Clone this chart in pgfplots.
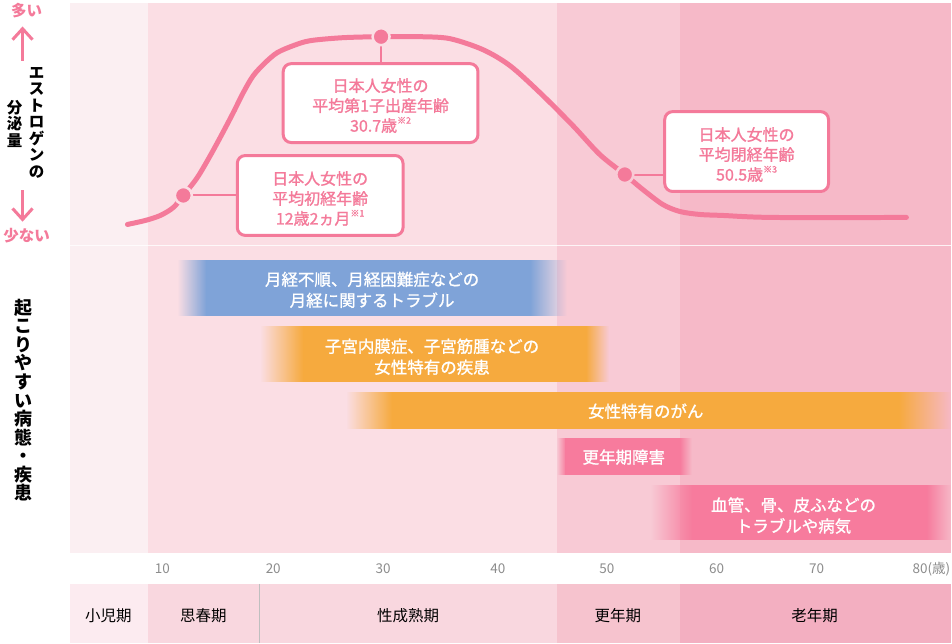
\documentclass[border=0pt]{standalone}
\usepackage{fontspec}
\setmainfont{Noto Sans CJK JP}
\newfontfamily\jpmed[FakeBold=1.2]{Noto Sans CJK JP}
\usepackage{pgfplots}
\pgfplotsset{compat=1.18}
\usetikzlibrary{fadings}
\definecolor{bgA}{HTML}{FBEFF2}
\definecolor{bgB}{HTML}{FBDEE4}
\definecolor{bgC}{HTML}{F8CAD5}
\definecolor{bgD}{HTML}{F6B9C8}
\definecolor{sA}{HTML}{FCEBF0}
\definecolor{sB}{HTML}{F9D7DF}
\definecolor{sC}{HTML}{F6C3CE}
\definecolor{sD}{HTML}{F3AFC1}
\definecolor{curve}{HTML}{F47A9A}
\definecolor{barblue}{HTML}{7FA3D8}
\definecolor{barorange}{HTML}{F6AA3E}
\definecolor{barpink}{HTML}{F77B9D}
\definecolor{tickgray}{HTML}{8C8C8C}
\tikzfading[name=fadein, left color=transparent!100, right color=transparent!0]
\tikzfading[name=fadeout, left color=transparent!0, right color=transparent!100]
\newcommand{\fs}[2]{\fontsize{#1}{#2}\selectfont}
\newcommand{\note}[1]{\raisebox{0.5em}{\fs{9}{9}※#1}}
\begin{document}
\begin{tikzpicture}
\begin{axis}[scale only axis, width=952pt, height=641pt,
  xmin=0, xmax=952, ymin=0, ymax=641, y dir=reverse,
  hide axis, clip=false]
% background
\addplot[fill=white, draw=none] coordinates {(0,0)(952,0)(952,641)(0,641)} -- cycle;
% upper bands (life stages)
\addplot[fill=bgA, draw=none] coordinates {(70,0)(148,0)(148,551)(70,551)} -- cycle;
\addplot[fill=bgB, draw=none] coordinates {(148,0)(557,0)(557,551)(148,551)} -- cycle;
\addplot[fill=bgC, draw=none] coordinates {(557,0)(680,0)(680,551)(557,551)} -- cycle;
\addplot[fill=bgD, draw=none] coordinates {(680,0)(952,0)(952,551)(680,551)} -- cycle;
\addplot[white, line width=1.3pt, opacity=0.8] coordinates {(70,243)(952,243)};
% bottom strip
\addplot[fill=sA, draw=none] coordinates {(70,582)(148,582)(148,641)(70,641)} -- cycle;
\addplot[fill=sB, draw=none] coordinates {(148,582)(557,582)(557,641)(148,641)} -- cycle;
\addplot[fill=sC, draw=none] coordinates {(557,582)(680,582)(680,641)(557,641)} -- cycle;
\addplot[fill=sD, draw=none] coordinates {(680,582)(952,582)(952,641)(680,641)} -- cycle;
\addplot[color=black!25, line width=1pt] coordinates {(259,582)(259,641)};
% stage labels
\node[font=\fs{15.5}{18}] at (axis cs:108,614) {小児期};
\node[font=\fs{15.5}{18}] at (axis cs:203,614) {思春期};
\node[font=\fs{15.5}{18}] at (axis cs:408,614) {性成熟期};
\node[font=\fs{15.5}{18}] at (axis cs:618,614) {更年期};
\node[font=\fs{15.5}{18}] at (axis cs:815,614) {老年期};
% age ticks
\foreach \xx/\lab in {162/10,273/20,383/30,498/40,607/50,717/60,817/70} {
  \edef\tmp{\noexpand\node[font=\noexpand\fs{13.5}{15}, text=tickgray] at (axis cs:\xx,567) {\lab};}\tmp
}
\node[font=\fs{13.5}{15}, text=tickgray, anchor=east, inner sep=0pt] at (axis cs:951,567) {80(歳)};

% disease bars
% blue
\addplot[fill=barblue, draw=none, path fading=fadein] coordinates {(177,258)(206,258)(206,314)(177,314)} -- cycle;
\addplot[fill=barblue, draw=none] coordinates {(205.5,258)(530.5,258)(530.5,314)(205.5,314)} -- cycle;
\addplot[fill=barblue, draw=none, path fading=fadeout] coordinates {(530,258)(567,258)(567,314)(530,314)} -- cycle;
\node[font=\jpmed\fs{16.5}{21}, text=white, align=center] at (axis cs:372,287.5) {月経不順、月経困難症などの\\月経に関するトラブル};
% orange 1
\addplot[fill=barorange, draw=none, path fading=fadein] coordinates {(260,324)(303,324)(303,380)(260,380)} -- cycle;
\addplot[fill=barorange, draw=none] coordinates {(302.5,324)(586.5,324)(586.5,380)(302.5,380)} -- cycle;
\addplot[fill=barorange, draw=none, path fading=fadeout] coordinates {(586,324)(609,324)(609,380)(586,380)} -- cycle;
\node[font=\jpmed\fs{16.5}{21}, text=white, align=center] at (axis cs:432,354.5) {子宮内膜症、子宮筋腫などの\\女性特有の疾患};
% orange 2
\addplot[fill=barorange, draw=none, path fading=fadein] coordinates {(346,390)(392,390)(392,427)(346,427)} -- cycle;
\addplot[fill=barorange, draw=none] coordinates {(391.5,390)(899.5,390)(899.5,427)(391.5,427)} -- cycle;
\addplot[fill=barorange, draw=none, path fading=fadeout] coordinates {(899,390)(952,390)(952,427)(899,427)} -- cycle;
\node[font=\jpmed\fs{16.5}{21}, text=white] at (axis cs:646,409) {女性特有のがん};
% pink 1
\addplot[fill=barpink, draw=none, path fading=fadein] coordinates {(557,436)(566,436)(566,473)(557,473)} -- cycle;
\addplot[fill=barpink, draw=none] coordinates {(565.5,436)(680.5,436)(680.5,473)(565.5,473)} -- cycle;
\addplot[fill=barpink, draw=none, path fading=fadeout] coordinates {(680,436)(692,436)(692,473)(680,473)} -- cycle;
\node[font=\jpmed\fs{16.5}{21}, text=white] at (axis cs:624,455) {更年期障害};
% pink 2
\addplot[fill=barpink, draw=none, path fading=fadein] coordinates {(651,483)(693,483)(693,538)(651,538)} -- cycle;
\addplot[fill=barpink, draw=none] coordinates {(692.5,483)(927.5,483)(927.5,538)(692.5,538)} -- cycle;
\addplot[fill=barpink, draw=none, path fading=fadeout] coordinates {(927,483)(952,483)(952,538)(927,538)} -- cycle;
\node[font=\jpmed\fs{16.5}{21}, text=white, align=center] at (axis cs:794,513.5) {血管、骨、皮ふなどの\\トラブルや病気};

% estrogen curve
\addplot[color=curve, line width=5pt, line cap=round, smooth] coordinates {
 (127,222)(145,218)(160,213)(173,205)(183,193)(197,175)(210,153)(222,131)
 (233,110)(243,90)(253,73)(265,60)(277,50)(293,43)(310,38)(343,35)(381,34)
 (420,34)(450,36)(483,47)(510,63)(540,90)(573,123)(600,152)(625,172)
 (643,187)(663,202)(680,209)(700,212)(723,213)(773,215)(907,215)};
% connectors
\addplot[color=curve, line width=2pt] coordinates {(183,193)(238,193)};
\addplot[color=curve, line width=2pt] coordinates {(381,34)(381,62)};
\addplot[color=curve, line width=2pt] coordinates {(625,172)(665,172)};
% dots
\addplot[only marks, mark=*, mark size=8.5pt, mark options={fill=curve, draw=bgB, line width=2.5pt}] coordinates {(183,193)(381,34)};
\addplot[only marks, mark=*, mark size=8.5pt, mark options={fill=curve, draw=bgC, line width=2.5pt}] coordinates {(625,172)};
% callout boxes
\draw[rounded corners=8pt, fill=white, draw=curve, line width=3pt] (axis cs:237,153) rectangle (axis cs:403,233);
\draw[rounded corners=8pt, fill=white, draw=curve, line width=3pt] (axis cs:283,61) rectangle (axis cs:478,140);
\draw[rounded corners=8pt, fill=white, draw=curve, line width=3pt] (axis cs:665,109) rectangle (axis cs:829,189);
\node[font=\jpmed\fs{16}{20}, text=curve, align=center] at (axis cs:320,196) {日本人女性の\\平均初経年齢\\12歳2ヵ月\note{1}};
\node[font=\jpmed\fs{16}{20}, text=curve, align=center] at (axis cs:380.5,103) {日本人女性の\\平均第1子出産年齢\\30.7歳\note{2}};
\node[font=\jpmed\fs{16}{20}, text=curve, align=center] at (axis cs:747,152) {日本人女性の\\平均閉経年齢\\50.5歳\note{3}};

% left labels
\node[font=\bfseries\fs{15.5}{18}, text=curve] at (axis cs:26,8) {多い};
\node[font=\bfseries\fs{15.5}{18}, text=curve] at (axis cs:26,233) {少ない};
\draw[curve, line width=3pt] (axis cs:22,58) -- (axis cs:22,27);
\draw[curve, line width=3pt, line join=miter] (axis cs:12,37) -- (axis cs:22,26) -- (axis cs:32,37);
\draw[curve, line width=3pt] (axis cs:22,188) -- (axis cs:22,216);
\draw[curve, line width=3pt, line join=miter] (axis cs:12,206) -- (axis cs:22,217) -- (axis cs:32,206);
\node[font=\bfseries\fs{15.5}{16.5}, align=center] at (axis cs:36,120) {エ\\ス\\ト\\ロ\\ゲ\\ン\\の};
\node[font=\bfseries\fs{15.5}{16.5}, align=center] at (axis cs:14,121) {分\\泌\\量};
\node[font=\bfseries\fs{18}{18.6}, align=center] at (axis cs:23,398) {起\\こ\\り\\や\\す\\い\\病\\態\\・\\疾\\患};
\end{axis}
\end{tikzpicture}
\end{document}
